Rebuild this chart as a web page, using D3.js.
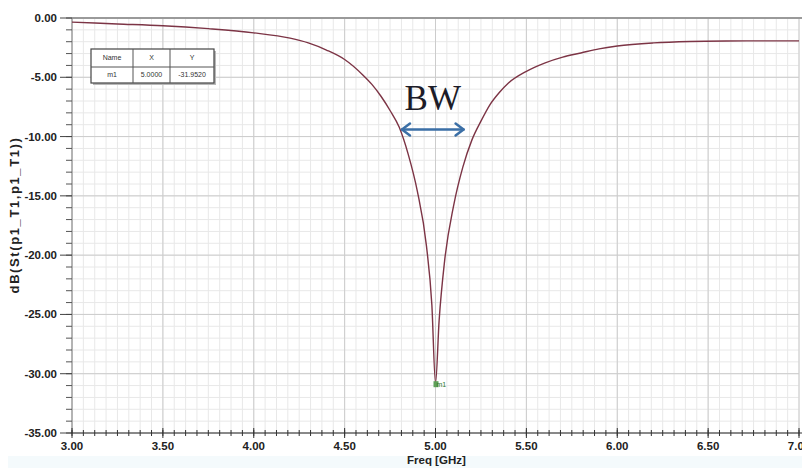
<!DOCTYPE html>
<html>
<head>
<meta charset="utf-8">
<script src="https://cdn.jsdelivr.net/npm/d3@7"></script>
<style>
  body { margin: 0; background: #fff; }
  svg { display: block; font-family: "Liberation Sans", Arial, sans-serif; }
</style>
</head>
<body>
<div id="chart"></div>
<script>
// S11 curve
var freq = [3.00, 3.25, 3.50, 3.75, 4.00, 4.20, 4.30, 4.40, 4.50, 4.60, 4.65, 4.70, 4.75, 4.80,
            4.85, 4.90, 4.95, 4.98, 5.00, 5.02, 5.05, 5.10, 5.15, 5.20, 5.25, 5.30, 5.35, 5.40,
            5.50, 5.60, 5.70, 5.80, 5.90, 6.00, 6.20, 6.40, 6.60, 6.80, 7.00];
var s11 = [-0.35, -0.50, -0.65, -0.90, -1.25, -1.70, -2.10, -2.70, -3.50, -4.80, -5.60, -6.60, -7.80, -9.20,
           -11.5, -14.6, -19.2, -24.2, -30.8, -25.5, -20.5, -15.8, -12.6, -10.3, -8.7, -7.3, -6.3, -5.5,
           -4.5, -3.8, -3.3, -2.95, -2.6, -2.36, -2.10, -1.98, -1.94, -1.93, -1.93];

var xTicks = [3.0, 3.5, 4.0, 4.5, 5.0, 5.5, 6.0, 6.5, 7.0];
var yTicks = [0, -5, -10, -15, -20, -25, -30, -35];

var markerName = "m1";
var markerX = 5.0;
var markerY = -30.8;
var markerTable = [["Name", "X", "Y"], ["m1", "5.0000", "-31.9520"]];

var bwFrom = 4.81, bwTo = 5.16, bwLevel = -9.4;

var width = 802, height = 468;

var svg = d3.select("#chart")
    .append("svg")
    .attr("width", width)
    .attr("height", height);

// faint tint at the bottom edge of the screenshot
svg.append("rect")
    .attr("x", 8).attr("y", 456)
    .attr("width", width - 8).attr("height", 12)
    .attr("fill", "#f4fafc");

var x = d3.scaleLinear().domain([3, 7]).range([72, 799]);
var y = d3.scaleLinear().domain([-35, 0]).range([433, 18]);

var fmt = function (d) { return d.toFixed(2).replace("\u2212", "-"); };

// grid
var minorX = d3.range(0, 65).map(function (i) { return 3 + i * 0.0625; });
var minorY = d3.range(-35, 1, 1);

svg.append("g").selectAll("line")
    .data(minorX)
    .enter().append("line")
    .attr("x1", function (d) { return x(d); })
    .attr("x2", function (d) { return x(d); })
    .attr("y1", y(0)).attr("y2", y(-35))
    .attr("stroke", "#e8e8e8").attr("stroke-width", 1);

svg.append("g").selectAll("line")
    .data(minorY)
    .enter().append("line")
    .attr("x1", x(3)).attr("x2", x(7))
    .attr("y1", function (d) { return y(d); })
    .attr("y2", function (d) { return y(d); })
    .attr("stroke", "#e8e8e8").attr("stroke-width", 1);

svg.append("g").selectAll("line")
    .data(xTicks)
    .enter().append("line")
    .attr("x1", function (d) { return x(d); })
    .attr("x2", function (d) { return x(d); })
    .attr("y1", y(0)).attr("y2", y(-35))
    .attr("stroke", "#cccccc").attr("stroke-width", 1);

svg.append("g").selectAll("line")
    .data(yTicks)
    .enter().append("line")
    .attr("x1", x(3)).attr("x2", x(7))
    .attr("y1", function (d) { return y(d); })
    .attr("y2", function (d) { return y(d); })
    .attr("stroke", "#cccccc").attr("stroke-width", 1);

// frame top
svg.append("line")
    .attr("x1", x(3)).attr("x2", width)
    .attr("y1", y(0)).attr("y2", y(0))
    .attr("stroke", "#9a9a9a").attr("stroke-width", 2);

// y axis
var yAxis = svg.append("g").attr("transform", "translate(" + x(3) + ",0)");
yAxis.append("line")
    .attr("y1", y(0)).attr("y2", y(-35))
    .attr("stroke", "#888");
yAxis.selectAll(".ymin")
    .data(minorY)
    .enter().append("line")
    .attr("x1", -6).attr("x2", 0)
    .attr("y1", function (d) { return y(d); })
    .attr("y2", function (d) { return y(d); })
    .attr("stroke", "#555");
yAxis.selectAll(".ymaj")
    .data(yTicks)
    .enter().append("line")
    .attr("x1", -12).attr("x2", 0)
    .attr("y1", function (d) { return y(d); })
    .attr("y2", function (d) { return y(d); })
    .attr("stroke", "#444");
yAxis.selectAll("text")
    .data(yTicks)
    .enter().append("text")
    .attr("x", -15)
    .attr("y", function (d) { return y(d); })
    .attr("dy", "0.35em")
    .attr("text-anchor", "end")
    .attr("font-size", 11.5)
    .attr("font-weight", "bold")
    .attr("fill", "#222")
    .text(fmt);

// x axis
var xAxis = svg.append("g").attr("transform", "translate(0," + y(-35) + ")");
xAxis.append("line")
    .attr("x1", x(3)).attr("x2", width)
    .attr("stroke", "#333").attr("stroke-width", 1.2);
xAxis.selectAll(".xmin")
    .data(minorX)
    .enter().append("line")
    .attr("x1", function (d) { return x(d); })
    .attr("x2", function (d) { return x(d); })
    .attr("y1", -3).attr("y2", 3)
    .attr("stroke", "#333");
xAxis.selectAll(".xmaj")
    .data(xTicks)
    .enter().append("line")
    .attr("x1", function (d) { return x(d); })
    .attr("x2", function (d) { return x(d); })
    .attr("y1", -5).attr("y2", 5)
    .attr("stroke", "#333");
xAxis.selectAll("text")
    .data(xTicks)
    .enter().append("text")
    .attr("x", function (d) { return x(d); })
    .attr("y", 17)
    .attr("text-anchor", "middle")
    .attr("font-size", 11.5)
    .attr("font-weight", "bold")
    .attr("fill", "#222")
    .text(fmt);

svg.append("text")
    .attr("x", 407).attr("y", 464)
    .attr("font-size", 11.5)
    .attr("font-weight", "bold")
    .attr("fill", "#222")
    .text("Freq [GHz]");

svg.append("text")
    .attr("transform", "translate(19,215) rotate(-90)")
    .attr("text-anchor", "middle")
    .attr("font-size", 13)
    .attr("font-weight", "bold")
    .attr("letter-spacing", 1.6)
    .attr("fill", "#222")
    .text("dB(St(p1_T1,p1_T1))");

// curve
var line = d3.line()
    .x(function (d, i) { return x(freq[i]); })
    .y(function (d) { return y(d); })
    .curve(d3.curveMonotoneX);

svg.append("path")
    .attr("d", line(s11))
    .attr("fill", "none")
    .attr("stroke", "#7c3445")
    .attr("stroke-width", 1.4);

// marker m1
svg.append("rect")
    .attr("x", x(markerX) - 2).attr("y", y(markerY) - 2)
    .attr("width", 5).attr("height", 6)
    .attr("fill", "#5fa05a");
svg.append("text")
    .attr("x", x(markerX) + 1).attr("y", y(markerY) + 4)
    .attr("font-size", 7)
    .attr("fill", "#2e7a2e")
    .text(markerName);

// marker table
var tbl = svg.append("g").attr("transform", "translate(91,49)");
var colX = [0, 42, 79, 123];
var rowY = [0, 18, 34];
tbl.append("rect")
    .attr("x", 2).attr("y", 2)
    .attr("width", colX[3]).attr("height", rowY[2])
    .attr("fill", "#b8b8b8");
tbl.append("rect")
    .attr("width", colX[3]).attr("height", rowY[2])
    .attr("fill", "#fff").attr("stroke", "#444").attr("stroke-width", 1.2);
tbl.append("line").attr("x1", 0).attr("x2", colX[3])
    .attr("y1", rowY[1]).attr("y2", rowY[1]).attr("stroke", "#555");
[colX[1], colX[2]].forEach(function (c) {
    tbl.append("line").attr("x1", c).attr("x2", c)
        .attr("y1", 0).attr("y2", rowY[2]).attr("stroke", "#555");
});
markerTable.forEach(function (row, r) {
    row.forEach(function (cell, c) {
        tbl.append("text")
            .attr("x", (colX[c] + colX[c + 1]) / 2)
            .attr("y", (rowY[r] + rowY[r + 1]) / 2)
            .attr("dy", "0.35em")
            .attr("text-anchor", "middle")
            .attr("font-size", 7)
            .attr("fill", "#333")
            .text(cell);
    });
});

// BW annotation
svg.append("text")
    .attr("x", (x(bwFrom) + x(bwTo)) / 2)
    .attr("y", 110)
    .attr("text-anchor", "middle")
    .attr("font-family", "'Liberation Serif', 'Times New Roman', serif")
    .attr("font-size", 35)
    .attr("fill", "#1c1c28")
    .text("BW");

var ay = y(bwLevel);
var x1 = x(bwFrom) + 1, x2 = x(bwTo) - 1;
var arrow = svg.append("g")
    .attr("stroke", "#3b6fa6")
    .attr("stroke-width", 2.5)
    .attr("fill", "none")
    .attr("stroke-linecap", "round")
    .attr("stroke-linejoin", "round");
arrow.append("line").attr("x1", x1).attr("x2", x2).attr("y1", ay).attr("y2", ay);
arrow.append("path").attr("d", "M" + (x1 + 8) + "," + (ay - 6) + "L" + x1 + "," + ay + "L" + (x1 + 8) + "," + (ay + 6));
arrow.append("path").attr("d", "M" + (x2 - 8) + "," + (ay - 6) + "L" + x2 + "," + ay + "L" + (x2 - 8) + "," + (ay + 6));
</script>
</body>
</html>
